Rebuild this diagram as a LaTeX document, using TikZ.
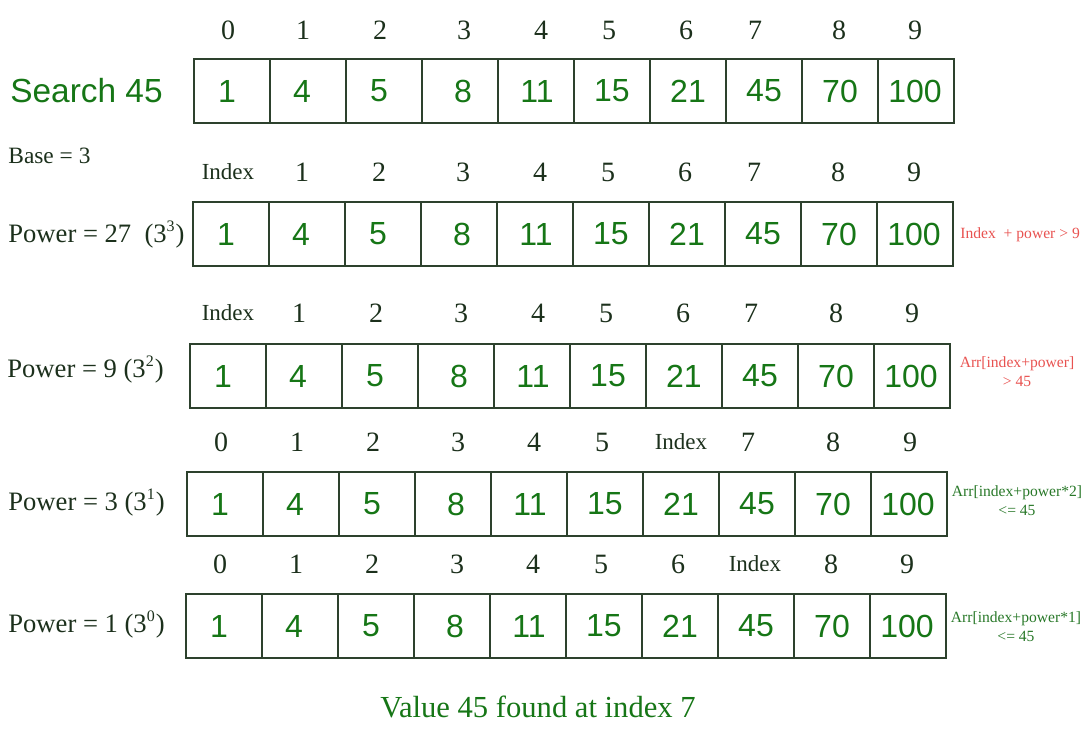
\documentclass[tikz,border=0pt]{standalone}
\usepackage{fontspec}
\setmainfont{Liberation Serif}
\newfontfamily\arialfont{Liberation Sans}
\definecolor{numgreen}{RGB}{22,118,22}
\definecolor{darktext}{RGB}{28,48,28}
\definecolor{boxline}{RGB}{45,65,45}
\definecolor{notered}{RGB}{232,82,80}
\definecolor{notegreen}{RGB}{40,120,40}
\newcommand\idxword{{\fontsize{11.5}{12}\selectfont Index}}
\newcommand\cellvals{1/-5,4/-6,5/-5,8/3,11/1,15/0,21/0,45/0,70/0,100/-1}

\begin{document}
\begin{tikzpicture}[x=0.5pt,y=-0.5pt,
		cellbox/.style={draw=boxline, line width=0.9pt, minimum width=38pt, minimum height=32pt, inner sep=0pt, outer sep=0pt, anchor=north west},
		cellnum/.style={text=numgreen, font=\arialfont\fontsize{16}{16}\selectfont, inner sep=0pt},
		idxnum/.style={text=darktext, font=\fontsize{14}{14}\selectfont, inner sep=0pt},
		sidetext/.style={text=darktext, anchor=base west, inner sep=0pt, font=\fontsize{13.3}{13}\selectfont},
		note/.style={align=center, font=\fontsize{7.8}{9.5}\selectfont, inner sep=0pt},
	]
	\path[use as bounding box] (0,0) rectangle (1088,736);
	% the five arrays with their index rows
	\foreach \r/\lx/\ty/\ly/\lbls in {
			1/194/59/30/{0/-4,1/-5,2/-4,3/4,4/5,5/-3,6/-2,7/-9,8/-1,9/-1},
			2/193/202/172/{\idxword/-3,1/-5,2/-4,3/4,4/5,5/-3,6/-2,7/-9,8/-1,9/-1},
			3/190/344/313/{\idxword/0,1/-5,2/-4,3/5,4/6,5/-2,6/-1,7/-9,8/0,9/0},
			4/187/472/442/{0/-4,1/-4,2/-4,3/5,4/5,5/-3,\idxword/0,7/-9,8/0,9/1},
			5/186/594/564/{0/-4,1/-4,2/-4,3/5,4/5,5/-3,6/-2,\idxword/-1,8/-1,9/-1}}
		{
			\foreach \v/\dx [count=\i from 0] in \cellvals {
					\node[cellbox] (c\r-\i) at ({\lx+76*\i},\ty) {};
					\node[cellnum] (v\r-\i) at ([xshift=\dx*0.5pt]c\r-\i.center) {\v};
				}
			\foreach \t/\dx [count=\i from 0] in \lbls
			\node[idxnum] (l\r-\i) at ({\lx+38+76*\i+\dx},\ly) {\t};
		}
	% left side texts
	\node[text=numgreen, anchor=west, inner sep=0pt, font=\arialfont\fontsize{16.7}{16.5}\selectfont] (search) at (10,91) {Search 45};
	\node[sidetext, font=\fontsize{11.7}{12}\selectfont] (base) at (8,163) {Base = 3};
	\node[sidetext] (pow27) at (8,242) {Power = 27~ (3\textsuperscript{\footnotesize 3})};
	\node[sidetext] (pow9) at (7,377) {Power = 9 (3\textsuperscript{\footnotesize 2})};
	\node[sidetext] (pow3) at (8,510) {Power = 3 (3\textsuperscript{\footnotesize 1})};
	\node[sidetext] (pow1) at (8,632) {Power = 1 (3\textsuperscript{\footnotesize 0})};
	% right side checks
	\node[note, text=notered, anchor=base west] (chk1) at (960,238) {Index~ + power > 9};
	\node[note, text=notered] (chk2) at (1017,372) {Arr[index+power]\\> 45};
	\node[note, text=notegreen] (chk3) at (1017,501) {Arr[index+power*2]\\<= 45};
	\node[note, text=notegreen] (chk4) at (1016,627) {Arr[index+power*1]\\<= 45};
	% result
	\node[text=numgreen, anchor=base, inner sep=0pt, font=\fontsize{15.3}{15}\selectfont] (result) at (538,717) {Value 45 found at index 7};
\end{tikzpicture}
\end{document}
